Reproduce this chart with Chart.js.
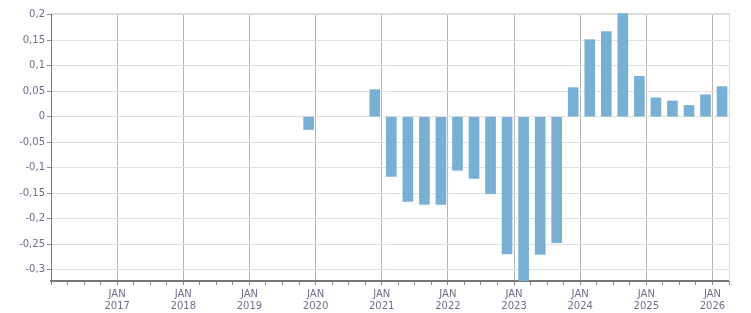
<!DOCTYPE html>
<html>
<head>
<meta charset="utf-8">
<script src="https://cdn.jsdelivr.net/npm/chart.js@4.4.1/dist/chart.umd.min.js"></script>
<style>
  body { margin: 0; background: #fff; }
  #wrap { width: 751px; height: 313px; position: relative; }
</style>
</head>
<body>
<div id="wrap"><canvas id="chart"></canvas></div>
<script>
// quarterly values
var quarters = ['2019-Q4',
    '2020-Q4',
    '2021-Q1', '2021-Q2', '2021-Q3', '2021-Q4',
    '2022-Q1', '2022-Q2', '2022-Q3', '2022-Q4',
    '2023-Q1', '2023-Q2', '2023-Q3', '2023-Q4',
    '2024-Q1', '2024-Q2', '2024-Q3', '2024-Q4',
    '2025-Q1', '2025-Q2', '2025-Q3', '2025-Q4',
    '2026-Q1'];
var values = [-0.025,
    0.053,
    -0.117, -0.166, -0.172, -0.172,
    -0.105, -0.121, -0.151, -0.269,
    -0.33, -0.27, -0.247, 0.057,
    0.151, 0.167, 0.202, 0.079,
    0.037, 0.031, 0.022, 0.043,
    0.059];
var xMin = 2016;
var xMax = 2026.25;
var yMin = -0.322;
var yMax = 0.2033;

var labelColor = '#6e6e8a';
var font = { family: 'DejaVu Sans', size: 10 };

// bars sit a bit past the start of their quarter
var toX = function(q) {
    var parts = q.split('-Q');
    return parseInt(parts[0]) + (parseInt(parts[1]) - 1) * 0.25 + 0.145;
};

var points = quarters.map(function(q, i) { return { x: toX(q), y: values[i] }; });

var isYear = function(v) {
    return Math.abs(v - Math.round(v)) < 1e-6;
};

var frame = {
    id: 'frame',
    beforeDatasetsDraw: function(chart) {
        var a = chart.chartArea;
        var ctx = chart.ctx;
        ctx.save();
        ctx.strokeStyle = '#dcdcdc';
        ctx.lineWidth = 1;
        ctx.beginPath();
        ctx.moveTo(a.left, Math.round(a.top) + 0.5);
        ctx.lineTo(Math.round(a.right) + 0.5, Math.round(a.top) + 0.5);
        ctx.lineTo(Math.round(a.right) + 0.5, a.bottom);
        ctx.stroke();
        ctx.restore();
    }
};

var ctx = document.getElementById('chart').getContext('2d');
new Chart(ctx, {
    type: 'bar',
    data: {
        datasets: [{
            data: points,
            backgroundColor: '#77b0d3',
            borderWidth: 0,
            barThickness: 10
        }]
    },
    options: {
        responsive: true,
        maintainAspectRatio: false,
        animation: false,
        layout: { padding: { top: 13, right: 22, left: 0, bottom: 0 } },
        plugins: {
            legend: { display: false },
            tooltip: { enabled: false }
        },
        scales: {
            x: {
                type: 'linear',
                min: xMin,
                max: xMax,
                offset: false,
                afterFit: function(scale) { scale.height = 32; },
                border: { color: '#777', width: 2 },
                grid: {
                    offset: false,
                    color: function(c) {
                        return c.tick && isYear(c.tick.value) ? '#b5b5b5' : 'rgba(0,0,0,0)';
                    },
                    tickColor: '#888',
                    tickLength: 4,
                    drawTicks: true
                },
                ticks: {
                    stepSize: 0.25,
                    autoSkip: false,
                    maxRotation: 0,
                    includeBounds: false,
                    padding: 3,
                    color: labelColor,
                    font: font,
                    callback: function(v) {
                        if (!isYear(v) || v <= xMin) return '';
                        return ['JAN', String(Math.round(v))];
                    }
                }
            },
            y: {
                min: yMin,
                max: yMax,
                afterFit: function(scale) { scale.width = 51; },
                border: { color: '#777', width: 1 },
                grid: {
                    color: '#e0e0e0',
                    tickColor: '#888',
                    tickLength: 4
                },
                ticks: {
                    stepSize: 0.05,
                    includeBounds: false,
                    padding: 2,
                    color: labelColor,
                    font: font,
                    callback: function(v) {
                        return String(Math.round(v * 100) / 100).replace('.', ',');
                    }
                }
            }
        }
    },
    plugins: [frame]
});
</script>
</body>
</html>
